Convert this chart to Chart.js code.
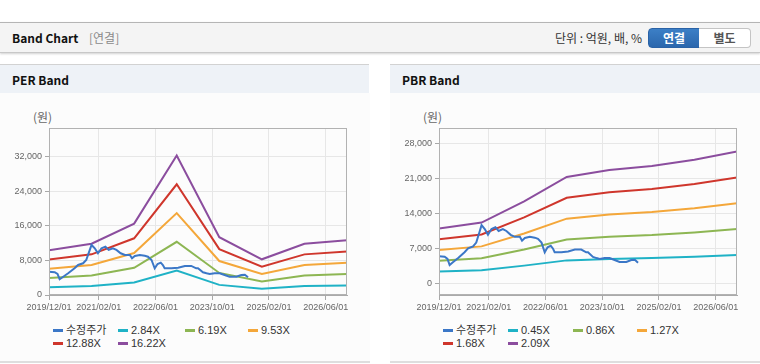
<!DOCTYPE html>
<html><head><meta charset="utf-8">
<script src="https://cdn.jsdelivr.net/npm/chart.js@4.4.1/dist/chart.umd.min.js"></script>
<style>
html,body{margin:0;padding:0;width:760px;height:364px;overflow:hidden;background:#fff;font-family:"Liberation Sans","Noto Sans CJK KR",sans-serif;}
.abs{position:absolute;}
#topbar{left:0;top:22px;width:760px;height:29px;background:#f4f4f4;border-top:1px solid #b5b5b5;border-bottom:1px solid #c8c8c8;box-shadow:0 1px 2px rgba(0,0,0,0.18);}
.kr{font-family:"Noto Sans CJK KR",sans-serif;}
.ttl{font-weight:bold;font-size:12px;color:#111;line-height:16px;white-space:nowrap;}
.sub{font-size:12px;color:#8a8a8a;line-height:16px;white-space:nowrap;}
.unit{font-size:12px;color:#333;line-height:16px;white-space:nowrap;text-align:right;}
.btn{top:28px;height:18px;line-height:18px;font-size:12px;font-weight:bold;text-align:center;box-sizing:border-box;}
#b1{left:648px;width:52px;background:linear-gradient(#3c7fc6,#2b67ad);color:#fff;border:1px solid #2a62a6;border-radius:4px 0 0 4px;height:20px;}
#b2{left:699px;width:52px;background:#fff;color:#555;border:1px solid #c4c4c4;border-left:none;border-radius:0 4px 4px 0;height:20px;}
.phead{top:64px;height:28px;background:#eef2f7;border-top:1px solid #d2d2d2;}
.pbody{top:93px;height:268px;background:#fcfcfc;border-bottom:2px solid #dedede;}
.won{font-size:12px;color:#666;line-height:14px;white-space:nowrap;}
.cv{top:100px;width:370px;height:215px;}
.li{position:absolute;height:13px;white-space:nowrap;}
.mk{position:absolute;left:0;top:5px;width:10px;height:3px;}
.tx{position:absolute;left:13px;top:-1px;font-size:11px;line-height:14px;color:#333;}
</style></head>
<body>
<div id="topbar" class="abs"></div>
<div class="abs ttl kr" style="left:12px;top:30px;">Band Chart</div>
<div class="abs sub kr" style="left:89px;top:30px;">[연결]</div>
<div class="abs unit kr" style="right:118px;top:30px;">단위 : 억원, 배, %</div>
<div id="b1" class="abs btn kr">연결</div>
<div id="b2" class="abs btn kr">별도</div>

<div class="abs pbody" style="left:0;width:370px;"></div>
<div class="abs pbody" style="left:390px;width:370px;"></div>
<div class="abs phead" style="left:0;width:369px;"></div>
<div class="abs phead" style="left:390px;width:370px;"></div>
<div class="abs ttl kr" style="left:12px;top:72px;">PER Band</div>
<div class="abs ttl kr" style="left:402px;top:72px;">PBR Band</div>
<div class="abs won kr" style="left:33px;top:110px;">(원)</div>
<div class="abs won kr" style="left:423px;top:110px;">(원)</div>

<div class="abs cv" style="left:0;"><canvas id="per"></canvas></div>
<div class="abs cv" style="left:390px;"><canvas id="pbr"></canvas></div>
<div id="perLeg" class="abs" style="left:0;top:324px;width:370px;height:30px;"></div>
<div id="pbrLeg" class="abs" style="left:0;top:324px;width:760px;height:30px;"></div>

<script>
// ---- data (x = months since 2019/12/01) ----
const tickMonths = [0, 14, 30, 46, 62, 78];
const tickLabels = ['2019/12/01','2021/02/01','2022/06/01','2023/10/01','2025/02/01','2026/06/01'];
const perYTicks = [0, 8000, 16000, 24000, 32000];
const pbrYTicks = [0, 7000, 14000, 21000, 28000];

const priceLabel = '수정주가';
const priceMonths = [0, 1.6, 2.4, 3.0, 4.0, 5.4, 7.2, 8.2, 9.6, 10.5, 11.5, 12.0, 12.9, 13.8, 14.8, 15.9, 16.8, 18.0, 19.0, 20.2, 21.4, 22.8, 23.4, 24.2, 25.6, 27.0, 27.9, 28.9, 29.8, 30.6, 31.5, 32.1, 32.6, 34.5, 36.4, 38.3, 40.1, 41.5, 42.0, 43.4, 44.4, 45.3, 46.7, 48.1, 49.5, 50.9, 52.8, 54.2, 55.2, 56.1];
const priceValues = [5400, 5300, 4870, 3650, 4240, 5030, 6190, 6960, 7350, 8120, 10440, 11600, 10830, 9670, 10830, 11200, 10440, 10830, 10440, 9670, 9280, 9280, 8510, 9040, 9280, 9110, 8880, 8120, 6190, 7190, 7490, 6960, 6190, 6190, 6330, 6730, 6730, 6190, 6190, 5260, 5030, 4870, 5030, 5030, 4640, 4240, 4240, 4640, 4700, 4100];

const bandMonths = [0, 12, 24, 36, 48, 60, 72, 84];

const perLabels = ['2.84X', '6.19X', '9.53X', '12.88X', '16.22X'];
const per284  = [1818, 2079, 2897, 5657, 2346, 1448, 2076, 2224];
const per619  = [3962, 4531, 6314, 12330, 5113, 3157, 4525, 4847];
const per953  = [6099, 6976, 9721, 18984, 7872, 4860, 6966, 7462];
const per1288 = [8243, 9428, 13138, 25657, 10639, 6569, 9415, 10085];
const per1622 = [10381, 11873, 16544, 32310, 13398, 8272, 11857, 12700];

const pbrLabels = ['0.45X', '0.86X', '1.27X', '1.68X', '2.09X'];
const pbr045 = [2354, 2610, 3524, 4572, 4869, 5040, 5310, 5661];
const pbr086 = [4498, 4988, 6734, 8738, 9305, 9632, 10148, 10819];
const pbr127 = [6642, 7366, 9944, 12903, 13741, 14224, 14986, 15977];
const pbr168 = [8786, 9744, 13154, 17069, 18178, 18816, 19824, 21134];
const pbr209 = [10931, 12122, 16365, 21234, 22614, 23408, 24662, 26292];

// ---- styles ----
const priceColor = '#3b77c7';
const bandColors = ['#1fb2c6', '#8db653', '#f4a73a', '#cf362c', '#8b4d9e'];

const zip = (xs, ys) => xs.map((x, i) => ({x, y: ys[i]}));

function datasets(bandLabels, bandSeries) {
  const ds = [{label: priceLabel, data: zip(priceMonths, priceValues), borderColor: priceColor, backgroundColor: priceColor}];
  bandSeries.forEach((s, i) => ds.push({label: bandLabels[i], data: zip(bandMonths, s), borderColor: bandColors[i], backgroundColor: bandColors[i]}));
  return ds;
}

const frame = {id: 'frame', afterDraw(c) {
  const a = c.chartArea, ctx = c.ctx;
  ctx.save(); ctx.strokeStyle = '#b2b2b2'; ctx.lineWidth = 1;
  ctx.strokeRect(Math.round(a.left) + 0.5, Math.round(a.top) + 0.5, Math.round(a.right) - Math.round(a.left) - 1, Math.round(a.bottom) - Math.round(a.top) - 1);
  ctx.restore();
}};

function makeChart(id, ds, yTicks, yMin, yMax) {
  return new Chart(document.getElementById(id), {
    type: 'line',
    data: {datasets: ds},
    options: {
      responsive: true, maintainAspectRatio: false, animation: false,
      layout: {padding: {top: 28, right: 23, left: 0, bottom: 0}},
      plugins: {legend: {display: false}, tooltip: {enabled: false}},
      elements: {point: {radius: 0}, line: {borderWidth: 2, tension: 0}},
      scales: {
        x: {
          type: 'linear', min: 0, max: 84,
          afterBuildTicks: s => { s.ticks = tickMonths.map(v => ({value: v})); },
          afterFit: s => { s.height = 20; },
          grid: {color: '#e7e7e7', tickColor: '#a8a8a8', tickLength: 5},
          border: {color: '#aaaaaa'},
          ticks: {autoSkip: false, maxRotation: 0, minRotation: 0, padding: 2, color: '#666',
                  font: {family: 'Liberation Sans', size: 9}, callback: (v, i) => tickLabels[i]}
        },
        y: {
          min: yMin, max: yMax,
          afterBuildTicks: s => { s.ticks = yTicks.map(v => ({value: v})); },
          afterFit: s => { s.width = 49; },
          grid: {color: '#e7e7e7', tickColor: '#a8a8a8', tickLength: 4},
          border: {color: '#aaaaaa'},
          ticks: {padding: 3, color: '#666', font: {family: 'Liberation Sans', size: 9},
                  callback: v => Number(v).toLocaleString('en-US')}
        }
      }
    },
    plugins: [frame]
  });
}

const perChart = makeChart('per', datasets(perLabels, [per284, per619, per953, per1288, per1622]), perYTicks, 0, 38700);
const pbrChart = makeChart('pbr', datasets(pbrLabels, [pbr045, pbr086, pbr127, pbr168, pbr209]), pbrYTicks, -2340, 31000);

function legend(el, chart, cols) {
  chart.data.datasets.forEach((d, i) => {
    const it = document.createElement('div');
    it.className = 'li';
    it.style.left = cols[i % 4] + 'px';
    it.style.top = (i < 4 ? 0 : 13) + 'px';
    const mk = document.createElement('span'); mk.className = 'mk'; mk.style.background = d.borderColor;
    const tx = document.createElement('span'); tx.className = 'tx'; tx.textContent = d.label;
    it.appendChild(mk); it.appendChild(tx); el.appendChild(it);
  });
}
legend(document.getElementById('perLeg'), perChart, [53, 118, 185, 248]);
legend(document.getElementById('pbrLeg'), pbrChart, [443, 508, 573, 637]);
</script>
</body></html>
